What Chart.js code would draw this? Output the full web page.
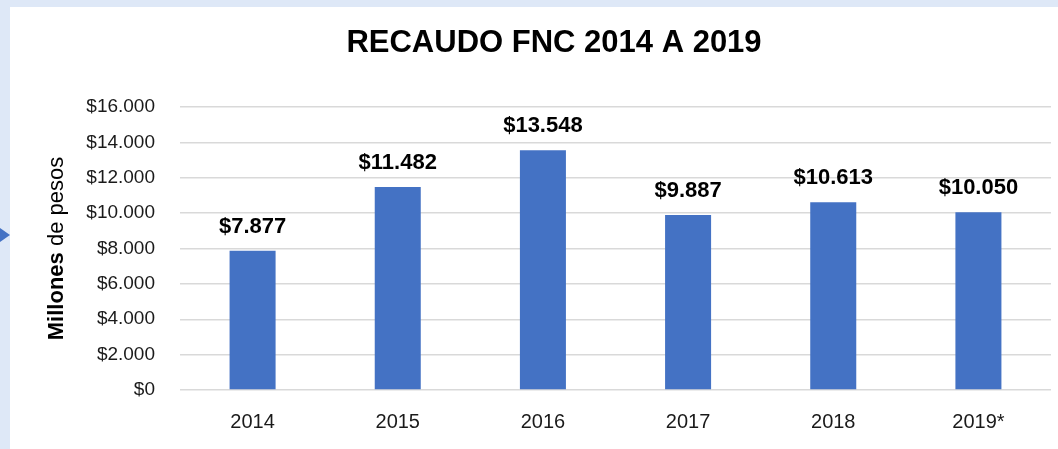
<!DOCTYPE html>
<html>
<head>
<meta charset="utf-8">
<script src="https://cdn.jsdelivr.net/npm/chart.js@4.4.1/dist/chart.umd.min.js"></script>
<style>
  html, body { margin: 0; padding: 0; background: #dee8f7; width: 1058px; height: 449px; overflow: hidden; }
  #panel { position: absolute; left: 10px; top: 7px; width: 1048px; height: 442px; background: #ffffff; }
  #tri { position: absolute; left: 0; top: 228px; width: 0; height: 0;
         border-left: 10px solid #4472c4; border-top: 7px solid transparent; border-bottom: 7px solid transparent; }
</style>
</head>
<body>
<div id="tri"></div>
<div id="panel"><canvas id="c" width="1048" height="442"></canvas></div>
<script>
const categories = ["2014", "2015", "2016", "2017", "2018", "2019*"];
const recaudo = [7877, 11482, 13548, 9887, 10613, 10050];
const yTicks = [0, 2000, 4000, 6000, 8000, 10000, 12000, 14000, 16000];
const chartTitle = "RECAUDO FNC 2014 A 2019";
const axisTitleBold = "Millones";
const axisTitleRest = " de pesos";

const FONT = "'Liberation Sans', Arial, sans-serif";
function fmt(n) {
  return "$" + String(Math.round(n)).replace(/\B(?=(\d{3})+(?!\d))/g, ".");
}

const dataLabels = {
  id: "dataLabels",
  afterDatasetsDraw(chart) {
    const ctx = chart.ctx;
    const meta = chart.getDatasetMeta(0);
    ctx.save();
    ctx.font = "bold 22px " + FONT;
    ctx.fillStyle = "#000000";
    ctx.textAlign = "center";
    ctx.textBaseline = "alphabetic";
    meta.data.forEach((bar, i) => {
      ctx.fillText(fmt(chart.data.datasets[0].data[i]), bar.x, bar.y - 18);
    });
    ctx.restore();
  }
};

const yTitle = {
  id: "yTitle",
  afterDraw(chart) {
    const ctx = chart.ctx;
    ctx.save();
    ctx.translate(47, chart.chartArea.top + (chart.chartArea.bottom - chart.chartArea.top) / 2);
    ctx.rotate(-Math.PI / 2);
    ctx.textBaseline = "middle";
    ctx.textAlign = "left";
    ctx.fillStyle = "#000000";
    ctx.font = "bold 22px " + FONT;
    const w1 = ctx.measureText(axisTitleBold).width;
    ctx.font = "22px " + FONT;
    const w2 = ctx.measureText(axisTitleRest).width;
    const start = -(w1 + w2) / 2;
    ctx.font = "bold 22px " + FONT;
    ctx.fillText(axisTitleBold, start, 0);
    ctx.font = "22px " + FONT;
    ctx.fillText(axisTitleRest, start + w1, 0);
    ctx.restore();
  }
};

new Chart(document.getElementById("c"), {
  type: "bar",
  data: {
    labels: categories,
    datasets: [{
      data: recaudo,
      backgroundColor: "#4472c4",
      borderWidth: 0,
      categoryPercentage: 1,
      barPercentage: 0.317
    }]
  },
  options: {
    responsive: false,
    animation: false,
    devicePixelRatio: 1,
    layout: { padding: { top: 0, right: 7, left: 47, bottom: 0 } },
    plugins: {
      legend: { display: false },
      tooltip: { enabled: false },
      title: {
        display: true,
        text: chartTitle,
        color: "#000000",
        font: { family: FONT, size: 31, weight: "bold" },
        padding: { top: 18, bottom: 44.8 }
      }
    },
    scales: {
      x: {
        grid: { display: false, drawTicks: false },
        border: { display: false },
        ticks: { color: "#1a1a1a", font: { family: FONT, size: 20 }, padding: 20 },
        afterFit(s) { s.height = 59; }
      },
      y: {
        min: 0, max: 16000,
        afterBuildTicks(s) { s.ticks = yTicks.map(v => ({ value: v })); },
        grid: { color: "#d9d9d9", lineWidth: 1.5, drawTicks: false },
        border: { display: false },
        ticks: { color: "#1a1a1a", font: { family: FONT, size: 19 }, padding: 25,
                 callback: v => fmt(v) },
        afterFit(s) { s.width = 123; }
      }
    }
  },
  plugins: [dataLabels, yTitle]
});
</script>
</body>
</html>
